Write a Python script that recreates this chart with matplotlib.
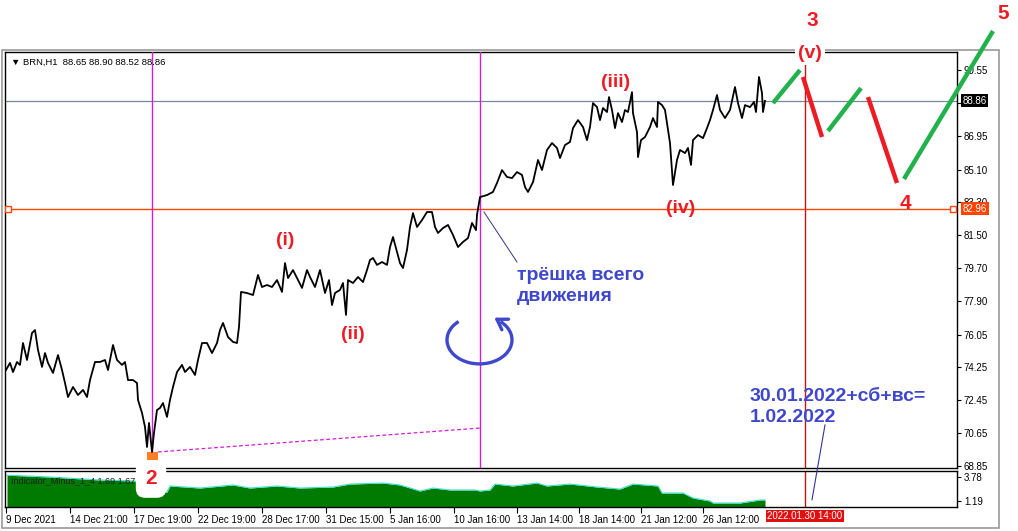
import matplotlib
matplotlib.use("Agg")
import matplotlib.pyplot as plt
from matplotlib.patches import Rectangle, PathPatch
from matplotlib.path import Path
from matplotlib.transforms import Affine2D

plt.rcParams['font.family'] = ['Liberation Sans', 'DejaVu Sans']

# ---------------- data (bar index, price) ----------------
price_bar = [1,5,8,12,15,18,22,27,30,33,37,40,43,48,53,57,60,63,68,73,78,82,85,90,95,100,103,108,112,117,120,123,128,132,133,137,140,142,144,147,149,152,155,158,162,165,168,172,177,180,185,190,193,197,202,207,212,215,218,223,228,232,234,236,242,248,253,
             257,262,267,272,277,280,283,288,293,297,302,305,310,315,320,324,327,330,335,338,341,343,348,353,358,362,365,368,372,377,382,385,388,392,395,398,402,405,408,412,417,422,427,430,433,438,443,448,453,458,463,467,471,472,
             475,482,488,492,497,502,507,512,517,520,523,528,533,537,542,547,552,555,560,565,568,573,578,582,585,588,592,595,598,602,604,607,610,613,617,620,623,627,628,632,633,636,640,645,648,652,653,657,660,663,665,667,668,672,675,680,683,686,688,693,698,702,705,708,712,715,720,725,730,733,737,740,745,749,751,754,757,758,760]
price_val = [74.11,74.50,74.00,74.55,74.39,75.59,74.66,76.14,76.30,75.21,74.28,75.04,74.50,73.95,74.93,74.11,73.40,72.63,73.18,72.74,73.02,72.63,73.56,74.55,74.55,74.66,74.11,75.48,74.66,74.39,74.55,73.56,73.56,73.40,72.47,71.76,70.99,69.89,71.21,69.62,70.66,71.92,72.03,72.30,71.54,72.47,73.18,74.00,74.39,74.00,74.28,73.84,74.66,75.59,75.59,75.04,75.59,76.30,76.69,75.92,75.65,75.59,76.47,78.39,78.33,78.22,79.32,
             78.66,78.77,78.66,79.04,78.39,79.97,79.15,79.59,79.04,78.61,79.59,79.21,78.66,79.59,78.33,79.04,77.67,78.33,78.50,78.88,77.13,79.04,78.88,79.21,78.93,79.59,80.14,80.25,79.87,80.03,79.87,80.85,81.40,80.58,79.97,79.70,80.69,81.95,82.71,81.95,82.33,82.77,82.77,81.95,81.62,81.89,82.06,81.51,80.85,81.13,81.34,82.17,81.78,82.61,
             83.59,83.70,83.87,84.36,85.07,84.69,84.63,84.96,84.80,84.14,83.87,84.41,85.62,85.07,86.17,86.55,86.28,85.73,86.44,86.61,87.37,87.81,87.43,86.71,87.43,88.74,88.52,87.81,88.47,88.25,89.07,88.36,87.37,88.19,87.70,88.36,88.25,89.34,88.19,87.15,85.78,86.71,86.88,87.43,87.92,87.43,88.80,88.63,88.36,87.26,86.55,85.07,84.25,85.62,86.17,86.00,86.28,85.35,86.71,86.99,86.82,87.37,87.81,88.36,89.18,88.36,87.92,88.36,89.62,88.74,87.92,88.63,88.52,88.80,88.25,90.17,89.29,88.25,88.86]

ind_bar = [2,45,95,130,135,138,152,162,165,195,228,245,272,295,328,345,378,395,415,428,445,470,475,485,490,508,532,542,565,592,615,628,653,657,678,688,705,708,735,755,760]
ind_val = [3.98,3.78,3.46,3.35,2.92,2.16,1.94,2.16,2.81,2.59,2.92,2.59,2.81,2.59,2.70,3.02,3.13,2.92,2.27,2.59,2.38,2.38,2.27,2.38,3.02,2.81,3.13,2.81,3.02,2.70,2.48,3.02,2.81,2.05,2.05,1.51,1.19,0.97,0.97,1.30,1.30]

price_ticks = [90.55, 88.75, 86.95, 85.10, 83.30, 81.50, 79.70, 77.90, 76.05, 74.25, 72.45, 70.65, 68.85]
price_tick_labels = ['90.55', '', '86.95', '85.10', '83.30', '81.50', '79.70', '77.90', '76.05', '74.25', '72.45', '70.65', '68.85']
time_tick_bars = [1, 65, 129, 193, 257, 321, 385, 449, 512, 574, 636, 698]
time_tick_labels = ['9 Dec 2021', '14 Dec 21:00', '17 Dec 19:00', '22 Dec 19:00', '28 Dec 17:00',
                    '31 Dec 15:00', '5 Jan 16:00', '10 Jan 16:00', '13 Jan 14:00', '18 Jan 14:00',
                    '21 Jan 12:00', '26 Jan 12:00']
last_price = 88.86
level_price = 82.96
vline_bars = [147, 475]
forecast_bar = 800
header = '\u25bc BRN,H1  88.65 88.90 88.52 88.86'
ind_label = 'Indicator_Minus_1_4 1.69 1.67'

# wave forecast segments (bar0, bar1, price0, price1)
green_segs = [(768, 795, 88.74, 90.55), (823, 856, 87.21, 89.56), (899, 988, 84.58, 92.69)]
red_segs = [(798, 817, 90.17, 86.88), (863, 892, 89.07, 84.36)]

RED = '#ED1C24'; GREEN = '#22B14C'; BLUE = '#3F48CC'; ORANGE = '#FF7F27'

W, H = 1018, 531
fig = plt.figure(figsize=(W/100, H/100), dpi=100)
fig.patch.set_facecolor('white')

ax = fig.add_axes([5/W, (H-468)/H, 952/W, 416/H])
ax2 = fig.add_axes([5/W, (H-507)/H, 952/W, 36/H])
ax.set_zorder(3)

# outer window border
fig.add_artist(Rectangle((2/W, 3/H), 997/W, (H-50-3)/H, transform=fig.transFigure,
                         fill=False, ec='#9a9a9a', lw=1.2, zorder=0))

# ---- main price panel ----
ax.set_xlim(0, 952)
ax.set_ylim(68.74, 91.54)
ax.plot(price_bar, price_val, color='black', lw=1.3, zorder=4)
ax.axhline(last_price, color='#778899', lw=0.9, zorder=2)
ax.axhline(level_price, color='#FF4500', lw=1.0, zorder=2)
ax.plot([3, 948], [level_price, level_price], 's', ms=4, mfc='white', mec='#FF4500', zorder=3)
for vb in vline_bars:
    ax.axvline(vb, color='#D41CD4', lw=1.0, zorder=3)
ax.vlines(forecast_bar, 68.74, 91.1, color='#CC1111', lw=1.0, zorder=3)
ax.plot([153, 475], [69.62, 70.93], color='#D41CD4', lw=0.9, ls=(0, (3, 2)), zorder=3)
ax.add_patch(Rectangle((142, 68.74), 11, 69.62-68.74, fc=ORANGE, ec='none', zorder=3))

for b0, b1, p0, p1 in green_segs:
    ax.plot([b0, b1], [p0, p1], color=GREEN, lw=3.2, solid_capstyle='butt', clip_on=False, zorder=6)
for b0, b1, p0, p1 in red_segs:
    ax.plot([b0, b1], [p0, p1], color=RED, lw=3.2, solid_capstyle='butt', clip_on=False, zorder=6)

# thin connector lines
ax.plot([479, 512], [82.77, 80.03], color='#333380', lw=0.7, zorder=5)
ax.plot([820, 807], [71.10, 67.0], color='#333399', lw=0.8, clip_on=False, zorder=5)

# circular arrow (ellipse arc centred at bar 474.5, price 75.76)
arc_tr = Affine2D().scale(32.5, 1.315).translate(474.5, 75.76) + ax.transData
ax.add_patch(PathPatch(Path.arc(130, 50), transform=arc_tr, fill=False, ec=BLUE, lw=2.4, zorder=6))
ax.annotate('', xy=(487, 77.06), xytext=(495.4, 76.77),
            arrowprops=dict(arrowstyle='->,head_length=0.7,head_width=0.45', color=BLUE, lw=2.4), zorder=6)

# axis styling
ax.yaxis.tick_right()
ax.set_yticks(price_ticks)
ax.set_yticklabels(price_tick_labels)
ax.tick_params(axis='y', labelsize=7, length=3, width=0.8, pad=2, colors='black')
ax.set_xticks([])
for s in ax.spines.values():
    s.set_color('black'); s.set_linewidth(1.0)

ax.text(0.006, 0.985, header, transform=ax.transAxes, fontsize=6.8, va='top', ha='left', color='black',
        family=['Liberation Sans', 'DejaVu Sans'])

# right-axis price labels
ax.text(1.006, last_price, f'{last_price:.2f}', transform=ax.get_yaxis_transform(), fontsize=7,
        color='white', va='center', ha='left', bbox=dict(boxstyle='square,pad=0.15', fc='black', ec='none'),
        zorder=10, clip_on=False)
ax.text(1.006, level_price, f'{level_price:.2f}', transform=ax.get_yaxis_transform(), fontsize=7,
        color='white', va='center', ha='left', bbox=dict(boxstyle='square,pad=0.15', fc='#FF4500', ec='none'),
        zorder=10, clip_on=False)

# wave labels
lab = dict(color=RED, fontweight='bold', ha='center', va='center', clip_on=False, zorder=8)
ax.text(280, 81.23, '(i)', fontsize=14, **lab)
ax.text(348, 76.03, '(ii)', fontsize=14, **lab)
ax.text(611, 89.89, '(iii)', fontsize=14, **lab)
ax.text(676, 82.99, '(iv)', fontsize=14, **lab)
ax.text(805, 91.45, '(v)', fontsize=14, bbox=dict(boxstyle='square,pad=0.15', fc='white', ec='none'), **lab)
ax.text(807, 93.29, '3', fontsize=15, **lab)
ax.text(998, 93.67, '5', fontsize=15, **lab)
ax.text(900, 83.26, '4', fontsize=15, **lab)
ax.text(146, 68.14, '2', fontsize=15, bbox=dict(boxstyle='round,pad=0.45', fc='white', ec='none'), **lab)

ax.text(512, 79.75, 'трёшка всего\nдвижения', fontsize=14, color=BLUE, fontweight='bold',
        ha='left', va='top', linespacing=1.3, zorder=8)
ax.text(745, 73.1, '30.01.2022+сб+вс=\n1.02.2022', fontsize=14, color=BLUE, fontweight='bold',
        ha='left', va='top', linespacing=1.3, zorder=8, clip_on=False)

# ---- indicator panel ----
ax2.set_xlim(0, 952)
ax2.set_ylim(0.54, 4.43)
ax2.fill_between(ind_bar, 0, ind_val, color='#007A00', lw=0)
ax2.plot(ind_bar, ind_val, color='#40E0D0', lw=0.8)
ax2.axvline(forecast_bar, color='#CC1111', lw=1.0)
ax2.yaxis.tick_right()
ax2.set_yticks([3.78, 1.19])
ax2.set_yticklabels(['3.78', '1.19'])
ax2.tick_params(axis='y', labelsize=7, length=3, width=0.8, pad=2)
ax2.set_xticks(time_tick_bars)
ax2.set_xticklabels(time_tick_labels)
ax2.tick_params(axis='x', labelsize=7, length=4, width=0.8, pad=2)
for lbl in ax2.get_xticklabels():
    lbl.set_ha('left')
for s in ax2.spines.values():
    s.set_color('black'); s.set_linewidth(1.0)
ax2.text(0.006, 0.72, ind_label, transform=ax2.transAxes, fontsize=6.5, color='#202020', va='center', ha='left')
ax2.text(forecast_bar, -0.25, '2022.01.30 14:00', transform=ax2.get_xaxis_transform(), fontsize=7,
         color='white', ha='center', va='center', bbox=dict(boxstyle='square,pad=0.15', fc='#E01010', ec='none'),
         clip_on=False, zorder=10)

fig.savefig('out.png', dpi=100)
